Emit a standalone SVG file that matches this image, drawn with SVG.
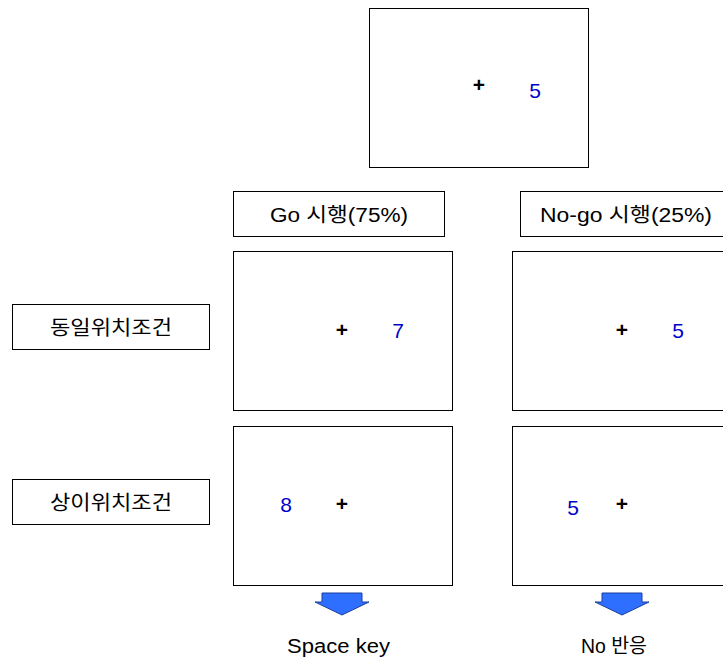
<svg xmlns="http://www.w3.org/2000/svg" width="723" height="660" viewBox="0 0 723 660">
<style>
.box{fill:#fff;stroke:#000;stroke-width:1}
.lbl{font-family:"Liberation Sans","Noto Sans CJK KR",sans-serif;font-size:20px;fill:#000}
.num{font-family:"Liberation Sans",sans-serif;font-size:21px;fill:#0000cc;text-anchor:middle}
.plus{font-family:"Liberation Sans",sans-serif;font-size:21px;font-weight:bold;fill:#000;text-anchor:middle}
.arr{fill:#2f6fff;stroke:#1a3fa0;stroke-width:1}
</style>
<rect width="723" height="660" fill="#fff"/>
<g id="top"><rect class="box" x="369.5" y="8.5" width="219" height="159"/><text class="plus" x="479" y="92">+</text><text class="num" x="535" y="98">5</text></g>
<g id="go-label"><rect class="box" x="233.5" y="191.5" width="211" height="45"/><text class="lbl" x="270" y="222" textLength="138" lengthAdjust="spacingAndGlyphs">Go 시행(75%)</text></g>
<g id="nogo-label"><rect class="box" x="520.5" y="191.5" width="210" height="45"/><text class="lbl" x="540" y="222" textLength="172" lengthAdjust="spacingAndGlyphs">No-go 시행(25%)</text></g>
<g id="same-label"><rect class="box" x="12.5" y="304.5" width="197" height="45"/><text class="lbl" x="50" y="335" textLength="122" lengthAdjust="spacingAndGlyphs">동일위치조건</text></g>
<g id="diff-label"><rect class="box" x="12.5" y="479.5" width="197" height="45"/><text class="lbl" x="50" y="510" textLength="122" lengthAdjust="spacingAndGlyphs">상이위치조건</text></g>
<g id="go-same"><rect class="box" x="233.5" y="251.5" width="219" height="159"/><text class="plus" x="342" y="337">+</text><text class="num" x="398" y="338">7</text></g>
<g id="nogo-same"><rect class="box" x="512.5" y="251.5" width="219" height="159"/><text class="plus" x="622" y="337">+</text><text class="num" x="678" y="338">5</text></g>
<g id="go-diff"><rect class="box" x="233.5" y="426.5" width="219" height="159"/><text class="plus" x="342" y="511">+</text><text class="num" x="286" y="512">8</text></g>
<g id="nogo-diff"><rect class="box" x="512.5" y="426.5" width="219" height="159"/><text class="plus" x="622" y="511">+</text><text class="num" x="573" y="515">5</text></g>
<g id="connectors">
<path class="arr" d="M322,593 H362 V602 H369 L342,615 L315,602 H322 Z"/>
<path class="arr" d="M602,593 H642 V602 H649 L622,615 L595,602 H602 Z"/>
</g>
<g id="go-result"><text class="lbl" x="287" y="653" textLength="103" lengthAdjust="spacingAndGlyphs">Space key</text></g>
<g id="nogo-result"><text class="lbl" x="581" y="653" textLength="66" lengthAdjust="spacingAndGlyphs">No 반응</text></g>
</svg>
